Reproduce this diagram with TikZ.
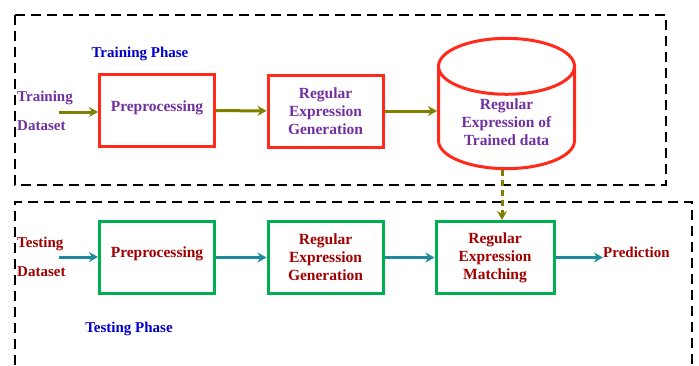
\documentclass[tikz,border=0pt]{standalone}
\usepackage{fontspec}
\setmainfont{Liberation Serif}
\usetikzlibrary{shapes.geometric,arrows.meta,positioning}
\definecolor{boxred}{HTML}{FF2A1A}
\definecolor{boxgreen}{HTML}{00B050}
\definecolor{arrolive}{HTML}{808000}
\definecolor{arrteal}{HTML}{1F8A9C}
\definecolor{txtpurple}{HTML}{7030A0}
\definecolor{txtred}{HTML}{A00000}
\definecolor{txtblue}{HTML}{0000CC}
\tikzset{
  phasebox/.style={draw=black, line width=2.2pt, dash pattern=on 10pt off 6pt},
  stagebox/.style={line width=3pt, minimum width=115pt, minimum height=72pt,
    align=center, font=\bfseries\fontsize{15.5}{18}\selectfont, inner sep=2pt},
  trainbox/.style={stagebox, draw=boxred, text=txtpurple},
  testbox/.style={stagebox, draw=boxgreen, text=txtred},
  trainarrow/.style={draw=arrolive, line width=3pt, -{Stealth[length=9pt,width=10pt]}},
  testarrow/.style={draw=arrteal, line width=3pt, -{Stealth[length=9pt,width=10pt]}},
  sidetext/.style={font=\bfseries\fontsize{15}{18}\selectfont, align=left, inner sep=0pt},
}
\begin{document}
\begin{tikzpicture}[x=1pt,y=-1pt]
    \useasboundingbox (0,0) rectangle (699,365);
    % phase frames
    \draw[phasebox] (15,15) rectangle (666,185);
    \draw[phasebox] (15,365) -- (15,202) -- (692,202) -- (692,365);
    % training phase
    \node[sidetext, text=txtblue] (trtitle) at (140,54) {Training Phase};
    \node[sidetext, text=txtpurple, anchor=west] (trdata) at (17,111)
        {Training\\[11pt]Dataset};
    \coordinate (trin) at (59,112);
    \node[trainbox] (trpre) at (157,110.5) {Preprocessing\\[-9pt]};
    \node[trainbox] (trgen) at (325.5,111) {Regular\\Expression\\Generation};
    \node[cylinder, shape border rotate=90, aspect=0.58, draw=boxred,
        line width=3pt, minimum width=136pt, minimum height=120pt,
        text=txtpurple, align=center, font=\bfseries\fontsize{15.5}{18}\selectfont,
        anchor=shape center] (trcyl) at (506.5,103.5)
        {Regular\\Expression of\\Trained data};
    \draw[trainarrow] (trin) -- (trpre.west|-trin);
    \draw[trainarrow] (trpre) -- (trgen);
    \draw[trainarrow] (trgen) -- (trcyl.west|-trgen);
    % testing phase
    \node[sidetext, text=txtred, anchor=west] (tsdata) at (17,257)
        {Testing\\[11pt]Dataset};
    \coordinate (tsin) at (59,257);
    \node[testbox] (tspre) at (157,257.5) {Preprocessing\\[-7pt]};
    \node[testbox] (tsgen) at (325.5,257.5) {Regular\\Expression\\Generation};
    \node[testbox, minimum width=118pt] (tsmatch) at (495,257.5)
        {Regular\\Expression\\Matching};
    \node[sidetext, text=txtred, anchor=west] (tspred) at (603,252) {Prediction};
    \node[sidetext, text=txtblue] (tstitle) at (129,329) {Testing Phase};
    \draw[testarrow] (tsin) -- (tspre.west|-tsin);
    \draw[testarrow] (tspre) -- (tsgen);
    \draw[testarrow] (tsgen) -- (tsmatch);
    \draw[testarrow] (tsmatch) -- (tspred.west|-tsmatch);
    % trained expressions feed the matcher
    \draw[trainarrow, dash pattern=on 6pt off 4pt] (trcyl.south-|502,0) -- (tsmatch.north-|502,0);
\end{tikzpicture}
\end{document}
